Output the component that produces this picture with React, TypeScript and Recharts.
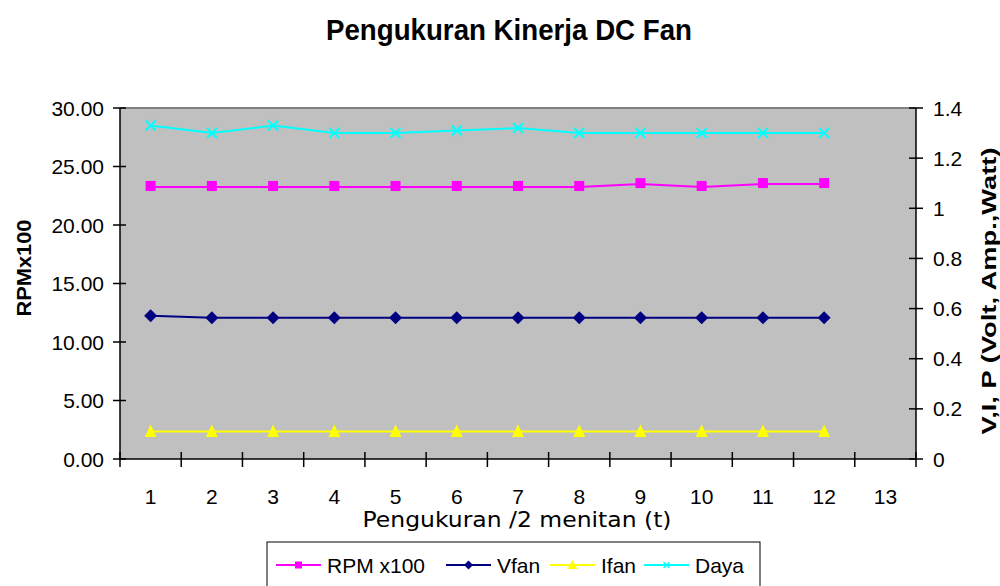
import React from 'react';
import { LineChart, Line, XAxis, YAxis, CartesianGrid, ReferenceLine } from 'recharts';

const measurements = [1, 2, 3, 4, 5, 6, 7, 8, 9, 10, 11, 12];
const rpmX100 = [23.25, 23.25, 23.25, 23.25, 23.25, 23.25, 23.25, 23.25, 23.5, 23.25, 23.5, 23.5];
const vfan = [12.25, 12.07, 12.07, 12.07, 12.07, 12.07, 12.07, 12.07, 12.07, 12.07, 12.07, 12.07];
const ifan = [0.11, 0.11, 0.11, 0.11, 0.11, 0.11, 0.11, 0.11, 0.11, 0.11, 0.11, 0.11];
const daya = [1.33, 1.3, 1.33, 1.3, 1.3, 1.31, 1.32, 1.3, 1.3, 1.3, 1.3, 1.3];

const xCategories = [1, 2, 3, 4, 5, 6, 7, 8, 9, 10, 11, 12, 13];
const leftTicks = [0, 5, 10, 15, 20, 25, 30];
const rightTicks = [0, 0.2, 0.4, 0.6, 0.8, 1, 1.2, 1.4];

const data = measurements.map((t, i) => ({
  t,
  rpm: rpmX100[i],
  vfan: vfan[i],
  ifan: ifan[i],
  daya: daya[i],
}));

const boundaryTicks = xCategories.map((v) => v - 0.5).concat([xCategories[xCategories.length - 1] + 0.5]);

const FONT = "'Liberation Sans', Arial, sans-serif";
const W = 1000;
const H = 586;
const PLOT_LEFT = 120;
const PLOT_RIGHT = 916;
const PLOT_TOP = 108;
const PLOT_BOTTOM = 459;
const HALF_STEP = (PLOT_RIGHT - PLOT_LEFT) / xCategories.length / 2;

const C_RPM = '#FF00FF';
const C_V = '#000080';
const C_I = '#FFFF00';
const C_P = '#00FFFF';

const LeftTick = (props: any) => {
  const { x, y, payload } = props;
  return (
    <g>
      <line x1={x - 7} x2={x + 6} y1={y} y2={y} stroke="#000" strokeWidth={1.5} />
      <text x={x - 16} y={y} textAnchor="end" dominantBaseline="central" fontSize={21} fontFamily={FONT} fill="#000">
        {Number(payload.value).toFixed(2)}
      </text>
    </g>
  );
};

const RightTick = (props: any) => {
  const { x, y, payload } = props;
  return (
    <g>
      <line x1={x - 7} x2={x + 7} y1={y} y2={y} stroke="#000" strokeWidth={1.5} />
      <text x={x + 17} y={y} textAnchor="start" dominantBaseline="central" fontSize={21} fontFamily={FONT} fill="#000">
        {String(Math.round(payload.value * 10) / 10)}
      </text>
    </g>
  );
};

const BottomTick = (props: any) => {
  const { x, y, payload } = props;
  const v = payload.value as number;
  const label = v + 0.5;
  return (
    <g>
      <line x1={x} x2={x} y1={y - 7} y2={y + 8} stroke="#000" strokeWidth={1.5} />
      {label <= xCategories[xCategories.length - 1] && (
        <text x={x + HALF_STEP} y={y + 37} textAnchor="middle" dominantBaseline="central" fontSize={21} fontFamily={FONT} fill="#000">
          {String(label)}
        </text>
      )}
    </g>
  );
};

const SquareDot = (props: any) => {
  const { cx, cy, index } = props;
  return <rect key={`s${index}`} x={cx - 5} y={cy - 6} width={10} height={10} fill={C_RPM} />;
};
const DiamondDot = (props: any) => {
  const { cx, cy, index } = props;
  const s = 6.5;
  return <polygon key={`d${index}`} points={`${cx},${cy - s} ${cx + s},${cy} ${cx},${cy + s} ${cx - s},${cy}`} fill={C_V} />;
};
const TriangleDot = (props: any) => {
  const { cx, cy, index } = props;
  return <polygon key={`t${index}`} points={`${cx},${cy - 7} ${cx + 6},${cy + 5.5} ${cx - 6},${cy + 5.5}`} fill={C_I} />;
};
const CrossDot = (props: any) => {
  const { cx, cy, index } = props;
  const s = 5;
  return (
    <g key={`c${index}`}>
      <line x1={cx - s} y1={cy - s} x2={cx + s} y2={cy + s} stroke={C_P} strokeWidth={2} />
      <line x1={cx - s} y1={cy + s} x2={cx + s} y2={cy - s} stroke={C_P} strokeWidth={2} />
    </g>
  );
};

const legendItems = [
  { name: 'RPM x100', color: C_RPM, shape: 'square', x: 276 },
  { name: 'Vfan', color: C_V, shape: 'diamond', x: 446 },
  { name: 'Ifan', color: C_I, shape: 'triangle', x: 550 },
  { name: 'Daya', color: C_P, shape: 'cross', x: 644 },
];

const LegendMarker = ({ shape, color, cx, cy }: any) => {
  if (shape === 'square') return <rect x={cx - 3.5} y={cy - 3.5} width={7} height={7} fill={color} />;
  if (shape === 'diamond')
    return <polygon points={`${cx},${cy - 4.5} ${cx + 4.5},${cy} ${cx},${cy + 4.5} ${cx - 4.5},${cy}`} fill={color} />;
  if (shape === 'triangle')
    return <polygon points={`${cx},${cy - 5} ${cx + 5},${cy + 4} ${cx - 5},${cy + 4}`} fill={color} />;
  return (
    <g>
      <line x1={cx - 3} y1={cy - 3} x2={cx + 3} y2={cy + 3} stroke={color} strokeWidth={1.5} />
      <line x1={cx - 3} y1={cy + 3} x2={cx + 3} y2={cy - 3} stroke={color} strokeWidth={1.5} />
    </g>
  );
};

export default function App() {
  return (
    <div style={{ position: 'absolute', left: 0, top: 0, width: W, height: H, background: '#fff', fontFamily: FONT }}>
      <LineChart
        width={W}
        height={H}
        data={data}
        margin={{ top: PLOT_TOP, right: 0, bottom: 67, left: 0 }}
      >
        <CartesianGrid horizontal={false} vertical={false} fill="#C0C0C0" yAxisId="left" />
        <XAxis
          dataKey="t"
          type="number"
          domain={[boundaryTicks[0], boundaryTicks[boundaryTicks.length - 1]]}
          ticks={boundaryTicks}
          interval={0}
          height={60}
          tickSize={0}
          tickMargin={0}
          tickLine={false}
          axisLine={{ stroke: '#000', strokeWidth: 1.5 }}
          tick={<BottomTick />}
          allowDataOverflow
        />
        <YAxis
          yAxisId="left"
          orientation="left"
          width={PLOT_LEFT}
          domain={[0, 30]}
          ticks={leftTicks}
          interval={0}
          tickSize={0}
          tickMargin={0}
          tickLine={false}
          axisLine={{ stroke: '#000', strokeWidth: 1.5 }}
          tick={<LeftTick />}
        />
        <YAxis
          yAxisId="right"
          orientation="right"
          width={W - PLOT_RIGHT}
          domain={[0, 1.4]}
          ticks={rightTicks}
          interval={0}
          tickSize={0}
          tickMargin={0}
          tickLine={false}
          axisLine={{ stroke: '#000', strokeWidth: 1.5 }}
          tick={<RightTick />}
        />
        <ReferenceLine yAxisId="left" y={30} stroke="#808080" strokeWidth={2} />
        <Line yAxisId="right" dataKey="daya" name="Daya" stroke={C_P} strokeWidth={2} dot={CrossDot} isAnimationActive={false} />
        <Line yAxisId="left" dataKey="rpm" name="RPM x100" stroke={C_RPM} strokeWidth={2} dot={SquareDot} isAnimationActive={false} />
        <Line yAxisId="left" dataKey="vfan" name="Vfan" stroke={C_V} strokeWidth={2} dot={DiamondDot} isAnimationActive={false} />
        <Line yAxisId="right" dataKey="ifan" name="Ifan" stroke={C_I} strokeWidth={2} dot={TriangleDot} isAnimationActive={false} />
      </LineChart>
      <svg width={W} height={H} style={{ position: 'absolute', left: 0, top: 0, pointerEvents: 'none' }}>
        <text
          x={509}
          y={30}
          textAnchor="middle"
          dominantBaseline="central"
          fontSize={29}
          fontWeight="bold"
          fontFamily={FONT}
          fill="#000"
          textLength={366}
          lengthAdjust="spacingAndGlyphs"
        >
          Pengukuran Kinerja DC Fan
        </text>
        <text
          x={23}
          y={268}
          textAnchor="middle"
          dominantBaseline="central"
          fontSize={21}
          fontWeight="bold"
          fontFamily={FONT}
          fill="#000"
          textLength={97}
          lengthAdjust="spacingAndGlyphs"
          transform="rotate(-90 23 268)"
        >
          RPMx100
        </text>
        <text
          x={988}
          y={291}
          textAnchor="middle"
          dominantBaseline="central"
          fontSize={21}
          fontWeight="bold"
          fontFamily={FONT}
          fill="#000"
          textLength={287}
          lengthAdjust="spacingAndGlyphs"
          transform="rotate(-90 988 291)"
        >
          V,I, P (Volt, Amp.,Watt)
        </text>
        <text
          x={517}
          y={520}
          textAnchor="middle"
          dominantBaseline="central"
          fontSize={21}
          fontFamily="'DejaVu Sans', Verdana, sans-serif"
          fill="#000"
          textLength={309}
          lengthAdjust="spacingAndGlyphs"
        >
          Pengukuran /2 menitan (t)
        </text>
        <rect x={267} y={542} width={493} height={46} fill="#fff" stroke="#000" strokeWidth={1} />
        {legendItems.map((it) => (
          <g key={it.name}>
            <line x1={it.x} x2={it.x + 45} y1={565} y2={565} stroke={it.color} strokeWidth={2} />
            <LegendMarker shape={it.shape} color={it.color} cx={it.x + 22.5} cy={565} />
            <text x={it.x + 51} y={565} dominantBaseline="central" fontSize={21} fontFamily={FONT} fill="#000">
              {it.name}
            </text>
          </g>
        ))}
      </svg>
    </div>
  );
}
